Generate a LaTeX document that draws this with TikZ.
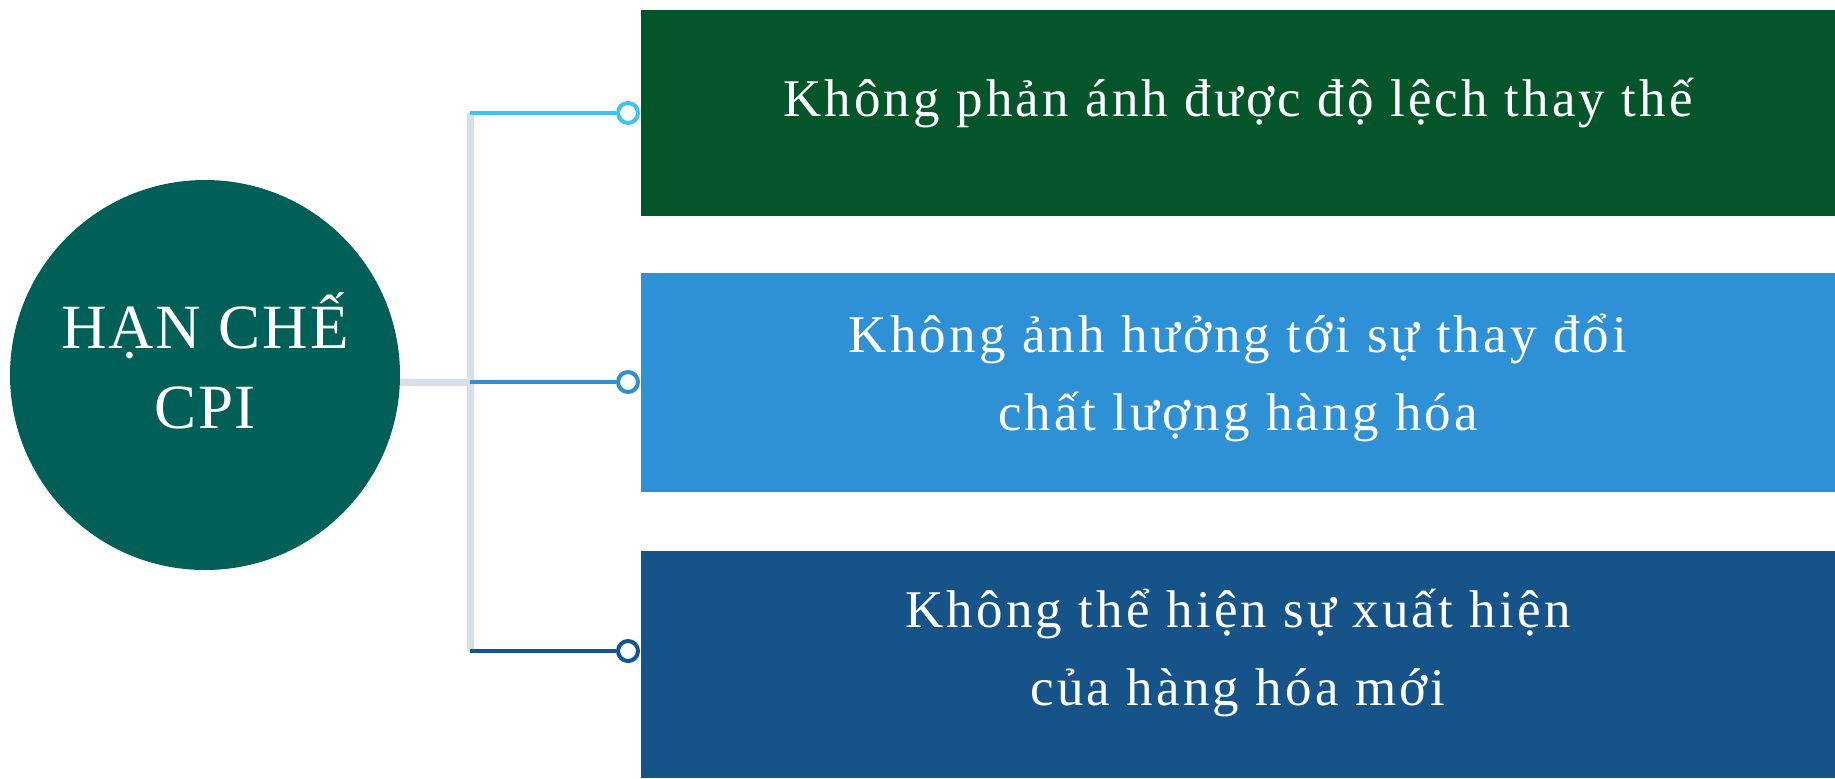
\documentclass[tikz,border=0pt]{standalone}
\usepackage{fontspec}
\setmainfont{Liberation Serif}[LetterSpace=6]
\newfontfamily\circfont{Liberation Serif}[LetterSpace=3]
\definecolor{cgreen}{HTML}{006058}
\definecolor{bgreen}{HTML}{04562A}
\definecolor{bblue}{HTML}{2E90D5}
\definecolor{bnavy}{HTML}{155389}
\definecolor{lcyan}{HTML}{3EC3EE}
\definecolor{lblue}{HTML}{2F8FD5}
\definecolor{lnavy}{HTML}{14548C}
\definecolor{trunk}{HTML}{D6E0EA}
\begin{document}
\begin{tikzpicture}[x=0.5pt,y=-0.5pt,
  lbl/.style={text=white,font=\fontsize{26.5}{39}\selectfont,align=center,inner sep=0pt},
  clbl/.style={text=white,font=\circfont\fontsize{31.5}{40}\selectfont,align=center,inner sep=0pt},
  dot/.style={circle,draw=#1,line width=2pt,fill=white,minimum size=10pt,inner sep=0pt},
  link/.style={line width=2pt,draw=#1},
  trk/.style={line width=3.5pt,draw=trunk}]
\useasboundingbox (0,0) rectangle (1835,778);
\fill[bgreen] (641,10) rectangle (1835,216);
\fill[bblue] (641,273) rectangle (1835,492);
\fill[bnavy] (641,551) rectangle (1835,778);
\node[circle,fill=cgreen,minimum size=195pt,inner sep=0pt] (c) at (205,375) {};
\node[clbl] (ct) at (205,361) {HẠN CHẾ\\CPI};
\coordinate (j1) at (470,113);
\coordinate (j2) at (470,382);
\coordinate (j3) at (470,651);
\node[dot=lcyan] (d1) at (628,113) {};
\node[dot=lblue] (d2) at (628,382) {};
\node[dot=lnavy] (d3) at (628,651) {};
\draw[trk] (j1) -- (j3);
\draw[trk] (c.east |- j2) -- (j2);
\draw[link=lcyan] (j1) -- (d1);
\draw[link=lblue] (j2) -- (d2);
\draw[link=lnavy] (j3) -- (d3);
\node[lbl] (t1) at (1238,103) {Không phản ánh được độ lệch thay thế};
\node[lbl] (t2) at (1238,378) {Không ảnh hưởng tới sự thay đổi\\chất lượng hàng hóa};
\node[lbl] (t3) at (1238,653) {Không thể hiện sự xuất hiện\\của hàng hóa mới};
\end{tikzpicture}
\end{document}
